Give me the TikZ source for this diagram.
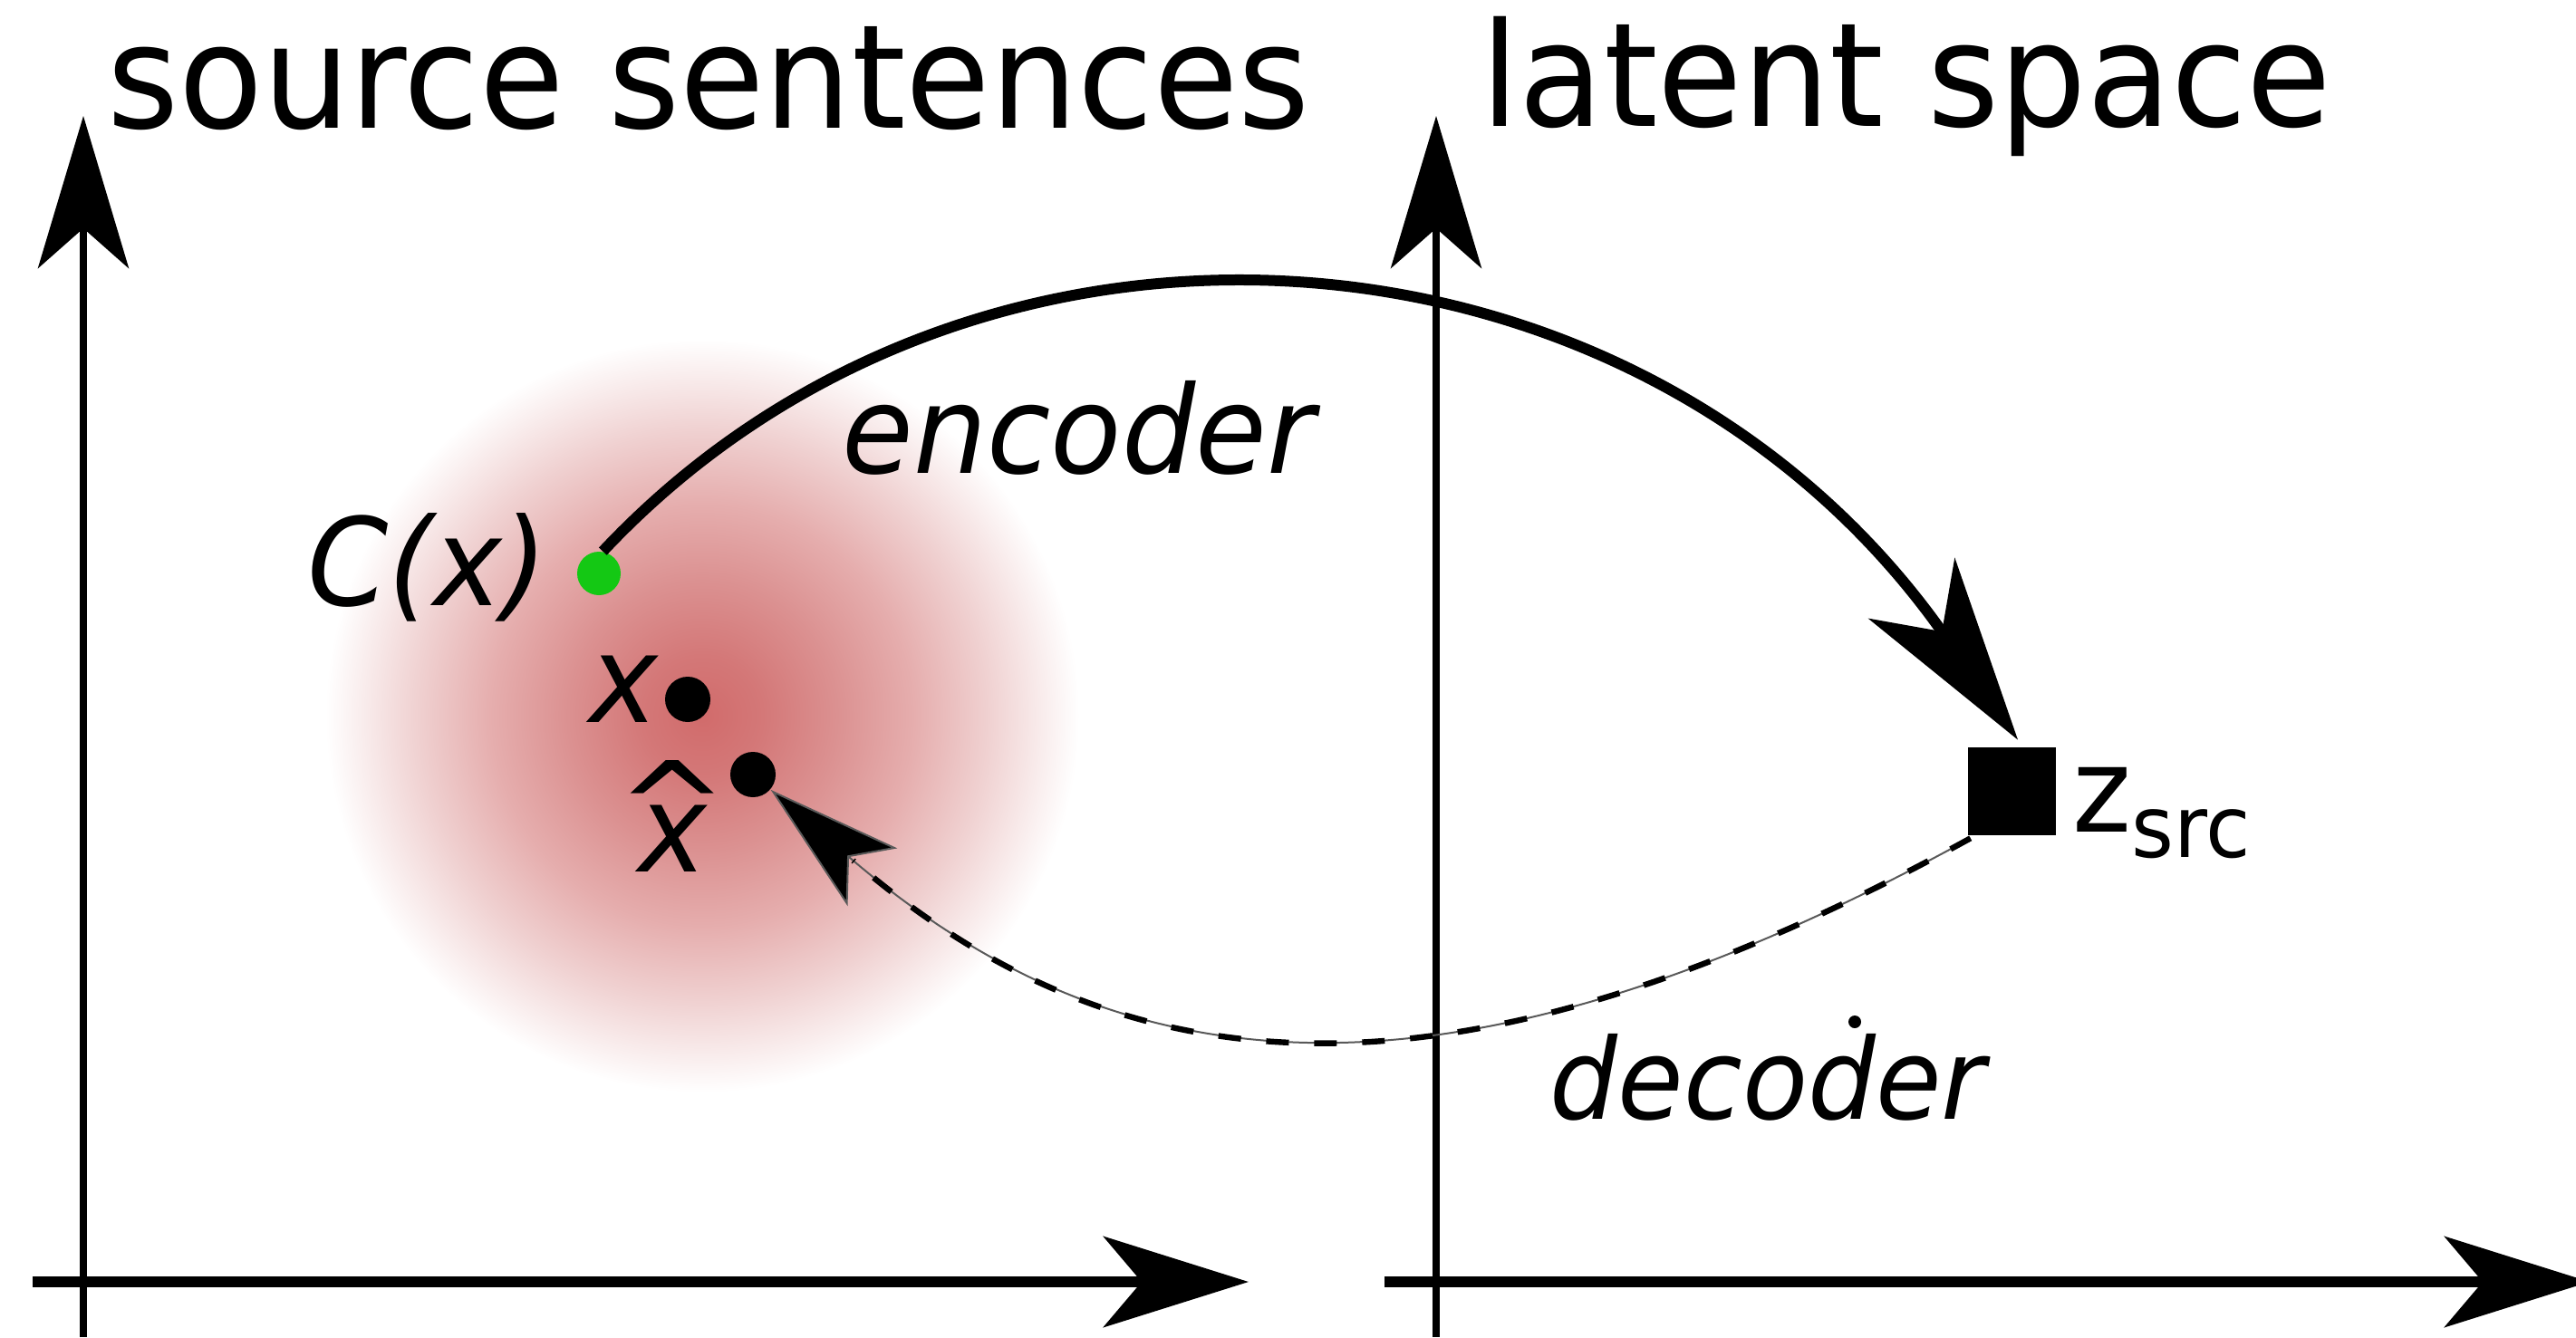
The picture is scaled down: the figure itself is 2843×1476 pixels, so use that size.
\documentclass[tikz,border=0pt]{standalone}
\usepackage{graphicx}
\usepackage{fontspec}
\setmainfont{DejaVu Sans}
\usetikzlibrary{arrows.meta}

% soft red cloud around the source sentence (the path's box maps to -25bp..25bp)
\pgfdeclareradialshading{redcloud}{\pgfpoint{0bp}{0bp}}{%
  rgb(0bp)=(0.82,0.42,0.42);
  rgb(4bp)=(0.83,0.47,0.47);
  rgb(9bp)=(0.86,0.57,0.57);
  rgb(14bp)=(0.90,0.68,0.68);
  rgb(19bp)=(0.94,0.82,0.82);
  rgb(23bp)=(0.98,0.94,0.94);
  rgb(25bp)=(1,1,1);
  rgb(50bp)=(1,1,1)}

\newcommand{\vstretch}[1]{\scalebox{1}[1.05]{#1}}
\newcommand{\titlesize}{\fontsize{38pt}{42pt}\selectfont}
\newcommand{\labelsize}{\fontsize{32pt}{36pt}\selectfont}

\begin{document}
\begin{tikzpicture}[x=0.25pt,y=-0.25pt,
  vaxis/.style={line width=2pt,-{Stealth[length=42pt,width=25pt,inset=11pt]}},
  haxis/.style={line width=3pt,-{Stealth[length=40pt,width=25pt,inset=10.5pt]}},
  title/.style={inner sep=0pt,anchor=base,font=\titlesize},
  lab/.style={inner sep=0pt,anchor=base,font=\labelsize\itshape},
  pt/.style={circle,fill=black,inner sep=0pt,minimum size=12.5pt},
  encline/.style={line width=3pt,-{Stealth[length=51pt,width=29pt,inset=14.5pt]}},
  decthin/.style={line width=0.5pt,draw=black!65,-{Stealth[length=37pt,width=21pt,inset=8.5pt,fill=black]}},
  decdash/.style={line width=1.6pt,dash pattern=on 6.25pt off 7pt,shorten >=30pt}
]
\useasboundingbox (0,0) rectangle (2843,1476);
\fill[white] (0,0) rectangle (2843,1476);

% red cloud
\shade[shading=redcloud] (775,790) circle (104pt);

% axes of the two spaces
\coordinate (lvy0) at (92,1476);
\coordinate (lvy1) at (92,128);
\coordinate (lhx0) at (36,1415);
\coordinate (lhx1) at (1378,1415);
\coordinate (rvy0) at (1585,1476);
\coordinate (rvy1) at (1585,128);
\coordinate (rhx0) at (1528,1415);
\coordinate (rhx1) at (2858,1415);
\draw[vaxis] (lvy0) -- (lvy1);
\draw[haxis] (lhx0) -- (lhx1);
\draw[vaxis] (rvy0) -- (rvy1);
\draw[haxis] (rhx0) -- (rhx1);

% titles
\node[title] (tsrc) at (782,142) {\vstretch{source sentences}};
\node[title] (tlat) at (2104,140) {\vstretch{latent space}};

% points
\node[pt,fill={rgb,255:red,20;green,200;blue,20},minimum size=12pt] (cx) at (661,633) {};
\node[pt] (xs) at (759,772) {};
\node[pt] (xh) at (831,855) {};
\node[rectangle,fill=black,inner sep=0pt,minimum size=24.25pt] (zsq) at (2220,873) {};
\fill (2047,1128) circle (1.75pt);

% labels
\node[lab] (lcx) at (472,668) {\vstretch{C(x)}};
\node[lab] (lxs) at (688,797) {\vstretch{x}};
\node[lab] (lxh) at (742,962)
  {\vstretch{\ooalign{x\cr\hidewidth\raisebox{5.75pt}{\upshape\scalebox{1.15}[1.0]{\textasciicircum}}\hidewidth\cr}}};
\node[inner sep=0pt,anchor=base west,font=\fontsize{31pt}{34pt}\selectfont] (lz) at (2287,918)
  {\vstretch{z\raisebox{-6.75pt}{\fontsize{22.5pt}{25pt}\selectfont src}}};
\node[lab] (lenc) at (1190,522) {\vstretch{encoder}};
\node[lab,font=\fontsize{29.5pt}{33pt}\selectfont\itshape] (ldec) at (1951,1235) {\vstretch{decoder}};

% encoder: source sentence to latent code
\coordinate (encend) at ([shift={(7,-7)}]zsq.north);
\draw[encline] (cx.80) .. controls +(413,-440) and +(-415,-592) .. (encend);

% decoder: latent code back to the reconstruction
\coordinate (decstart) at ([shift={(4,3)}]zsq.south west);
\draw[decthin] (decstart) .. controls +(-600,330) and +(390,335) .. (xh);
\draw[decdash] (decstart) .. controls +(-600,330) and +(390,335) .. (xh);
\end{tikzpicture}
\end{document}
